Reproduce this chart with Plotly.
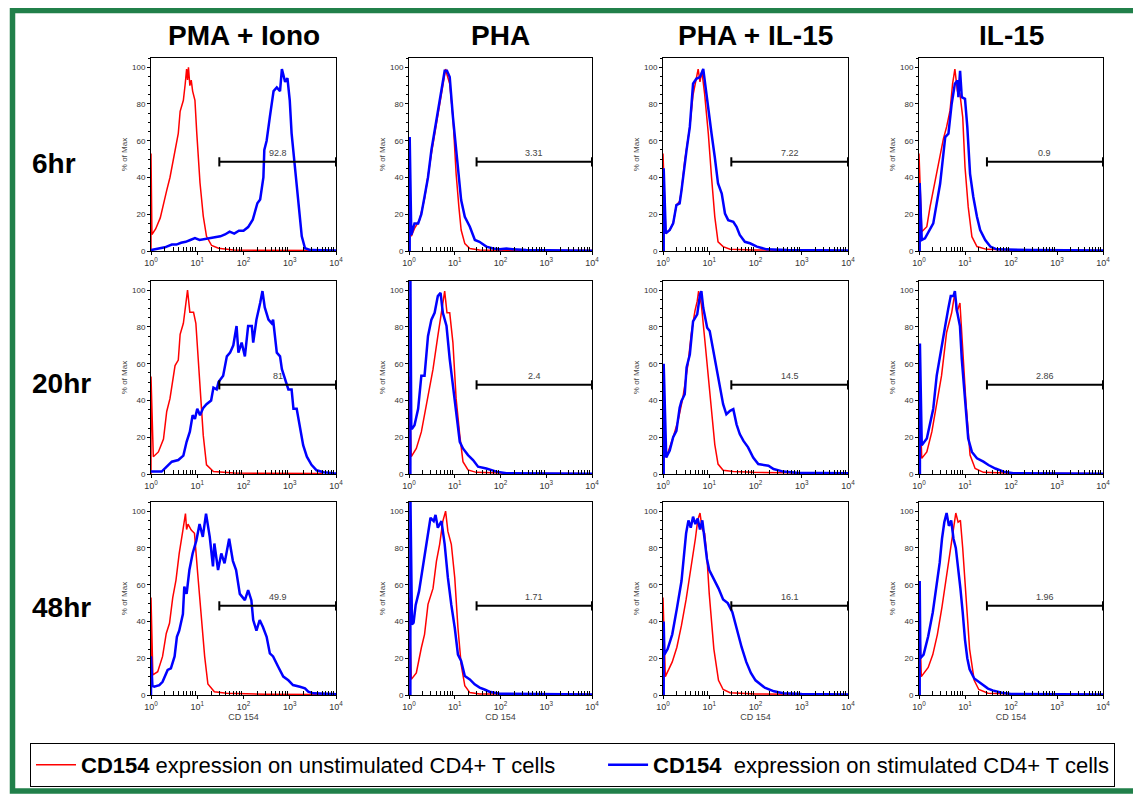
import numpy as np
import plotly.graph_objects as go
from plotly.subplots import make_subplots

# ---------------- data ----------------
conditions = ["PMA + Iono", "PHA", "PHA + IL-15", "IL-15"]
timepoints = ["6hr", "20hr", "48hr"]
gate_labels = [["92.8", "3.31", "7.22", "0.9"],
               ["81", "2.4", "14.5", "2.86"],
               ["49.9", "1.71", "16.1", "1.96"]]
gate_range = [30, 10000]      # CD154 gate bounds
gate_level = 48.5             # % of Max at which the gate bar is drawn

x_tick_vals = [1, 10, 100, 1000, 10000]
x_tick_text = ["10<sup>0</sup>", "10<sup>1</sup>", "10<sup>2</sup>", "10<sup>3</sup>", "10<sup>4</sup>"]
y_tick_vals = [0, 20, 40, 60, 80, 100]

# histograms: (log10 CD154 intensity, % of Max)
pma_6h_red = [(0,0),(0,53),(0.02,9),(0.1,12),(0.2,18),(0.27,26),(0.34,33),(0.41,40),(0.52,55),(0.59,64),(0.63,76),(0.7,82),(0.74,91),(0.77,99),(0.79,93),(0.81,100),(0.84,90),(0.87,93),(0.9,87),(0.95,82),(0.99,64),(1.06,37),(1.13,19),(1.2,8),(1.31,3),(1.46,1.5),(1.78,0.5),(2.5,0.3),(3.2,0.5),(3.72,0.3)]
pma_6h_blue = [(0,0.5),(0.1,1),(0.2,1.5),(0.3,2),(0.45,3.5),(0.55,3.5),(0.65,4.5),(0.75,5),(0.85,6),(0.95,7),(1.05,6),(1.15,6.5),(1.3,7),(1.4,7.5),(1.5,8),(1.6,9),(1.7,10.5),(1.8,9.5),(1.9,11),(2.0,11),(2.1,13),(2.2,17),(2.3,26),(2.36,28),(2.43,40),(2.45,55),(2.5,60),(2.57,73),(2.65,87),(2.72,89),(2.79,87),(2.83,99),(2.9,92),(2.95,94),(3.0,82),(3.04,64),(3.1,49),(3.15,33),(3.21,19),(3.26,8),(3.33,1.5),(3.45,0.5),(4.0,0.3)]

pha_6h_red = [(0,0),(0,50),(0.05,8),(0.12,12.3),(0.23,16.8),(0.34,28.5),(0.49,53),(0.63,73),(0.74,89),(0.8,99),(0.83,96),(0.89,91),(0.96,73),(1.03,42),(1.09,24),(1.14,11.4),(1.22,4),(1.33,1.4),(1.54,0.5),(2.5,0.3),(3.0,0.5),(3.6,0.4),(4,0.3)]
pha_6h_blue = [(0,0),(0.015,0),(0.015,62),(0.05,8.7),(0.12,15),(0.2,15),(0.27,20),(0.34,29.5),(0.415,40),(0.49,55),(0.56,65.6),(0.63,74.7),(0.71,89),(0.78,98),(0.83,98),(0.89,94.6),(0.96,73),(1.02,56.6),(1.07,45.7),(1.14,27.7),(1.22,18.6),(1.33,13.2),(1.44,6),(1.54,5),(1.69,2.4),(1.84,1.4),(1.98,1),(2.13,1.3),(2.27,1),(2.56,0.5),(4,0.2)]

pha15_6h_red = [(0,0),(0,53),(0.06,9.6),(0.145,11.4),(0.22,15),(0.29,25),(0.36,27),(0.4,33),(0.47,49),(0.51,55),(0.58,67.5),(0.65,85),(0.72,93),(0.76,99),(0.8,92),(0.84,98),(0.9,85.5),(0.98,63.8),(1.05,40),(1.12,18.6),(1.19,5),(1.3,2.4),(1.45,1),(1.95,0.5),(3.0,0.4),(3.7,0.3)]
pha15_6h_blue = [(0,0),(0.015,0),(0.015,45),(0.06,9.6),(0.145,11.4),(0.22,15),(0.29,25),(0.36,25.9),(0.4,33),(0.47,49.4),(0.51,55),(0.58,67.5),(0.65,91),(0.72,93.7),(0.8,94.6),(0.87,99),(0.9,92.8),(0.98,76.5),(1.05,63.8),(1.12,51),(1.19,36.7),(1.27,31.3),(1.34,20.4),(1.41,16.8),(1.52,15.9),(1.59,13.2),(1.66,8.7),(1.77,5),(1.88,4.2),(2.03,2.4),(2.24,0.9),(2.68,0.5),(4,0.3)]

il15_6h_red = [(0,0),(0,53),(0.06,10.5),(0.17,13.2),(0.24,24),(0.31,33),(0.42,47.6),(0.53,61),(0.6,67.5),(0.675,76.5),(0.73,91),(0.78,99),(0.835,87),(0.89,85.5),(0.95,73),(1.0,45.7),(1.07,24),(1.15,7.8),(1.26,2.4),(1.47,0.9),(2.05,0.5),(3.0,0.4),(3.7,0.3)]
il15_6h_blue = [(0,0),(0.015,0),(0.015,37),(0.06,6),(0.13,6.9),(0.24,11.4),(0.31,15),(0.385,25.9),(0.46,36.7),(0.57,62),(0.64,63.8),(0.71,80),(0.78,91),(0.835,92.8),(0.857,83.7),(0.893,98),(0.93,83.7),(1.0,82.8),(1.05,67.5),(1.11,42),(1.18,29.5),(1.26,18.6),(1.33,11.4),(1.44,6),(1.55,2.4),(1.69,0.9),(2.42,0.5),(4,0.3)]

pma_20h_red = [(0,0),(0,53),(0.05,9.4),(0.16,12),(0.27,19),(0.34,34),(0.41,41),(0.52,59),(0.59,62),(0.63,76),(0.7,82),(0.76,93),(0.79,100),(0.84,88),(0.92,88),(0.97,82),(1.02,62),(1.06,43),(1.13,21),(1.2,5),(1.35,1.3),(1.8,0.5),(2.8,0.3),(3.72,0.3)]
pma_20h_blue = [(0,1.3),(0.05,1.3),(0.23,1.3),(0.34,4),(0.45,6.7),(0.59,7.6),(0.7,10),(0.77,17.5),(0.84,23),(0.9,32),(0.95,30),(1.0,35.5),(1.06,32),(1.13,36),(1.2,38),(1.3,40),(1.35,47),(1.42,46),(1.46,50),(1.56,53.5),(1.64,64),(1.71,66),(1.78,70),(1.85,80.5),(1.89,66),(1.96,71.5),(2.03,64),(2.1,80.5),(2.18,80.5),(2.21,71.5),(2.28,84),(2.36,93),(2.41,99.5),(2.46,90.6),(2.54,84),(2.61,82),(2.64,84),(2.72,66),(2.79,64),(2.83,57),(2.9,52),(2.97,46),(3.04,46),(3.08,35.5),(3.15,35.5),(3.22,24.7),(3.29,15.7),(3.37,9.4),(3.47,5),(3.58,2),(3.73,1),(3.94,0.4),(4,0.3)]

pha_20h_red = [(0,0),(0,53),(0.05,9.4),(0.16,13.9),(0.27,22.9),(0.34,32),(0.415,42.7),(0.525,57),(0.63,75),(0.71,87.7),(0.78,99.5),(0.83,87.7),(0.89,87.7),(0.96,71.5),(1.03,41),(1.11,21),(1.18,6.7),(1.29,2.2),(1.47,0.9),(2.2,0.4),(3.7,0.3)]
pha_20h_blue = [(0,0),(0.03,0),(0.03,110),(0.05,24.7),(0.07,24.7),(0.12,26.5),(0.2,35.5),(0.27,53.5),(0.34,53.5),(0.415,75),(0.49,84),(0.56,87.7),(0.63,96.8),(0.69,98.5),(0.74,87.7),(0.82,80.5),(0.89,62.5),(0.96,48),(1.03,32),(1.11,17.5),(1.18,13.9),(1.29,10.3),(1.4,7.6),(1.51,4),(1.69,3),(1.91,1.3),(2.13,0.4),(4,0.2)]

pha15_20h_red = [(0,0),(0,53),(0.07,9),(0.22,20),(0.325,29),(0.43,41.6),(0.54,59.7),(0.61,76),(0.69,88.6),(0.74,94),(0.77,99.5),(0.83,92),(0.9,74),(0.98,52),(1.05,34),(1.12,16),(1.19,5.4),(1.3,2),(1.52,1.3),(1.95,0.9),(3.7,0.4)]
pha15_20h_blue = [(0,0),(0.015,0),(0.015,60),(0.07,9),(0.145,12.7),(0.22,20),(0.29,23.5),(0.36,36),(0.4,39.8),(0.47,43.4),(0.51,58),(0.58,65),(0.65,83),(0.74,86.8),(0.8,97.6),(0.83,99.5),(0.87,90.4),(0.9,86.8),(0.955,79.6),(1.01,77.8),(1.085,67),(1.16,56),(1.23,47),(1.3,38),(1.37,32.5),(1.45,34.4),(1.52,35.3),(1.59,27),(1.66,21.7),(1.74,18),(1.84,14.5),(1.95,9),(2.06,5.4),(2.17,4.9),(2.28,4.5),(2.39,2.7),(2.6,1.3),(2.89,0.7),(4,0.4)]

il15_20h_red = [(0,0),(0,53),(0.06,8.5),(0.17,12),(0.28,23),(0.385,39),(0.49,53.5),(0.6,77),(0.71,87.7),(0.78,98.5),(0.82,87.7),(0.89,93),(0.95,68),(1.02,39),(1.11,10.3),(1.22,3),(1.4,0.9),(2.05,0.4),(3.7,0.3)]
il15_20h_blue = [(0,0),(0.02,0),(0.02,71),(0.06,15.7),(0.17,19.3),(0.24,28.3),(0.31,35.5),(0.385,53.5),(0.42,59),(0.49,70),(0.57,80.5),(0.64,90.5),(0.69,96.8),(0.75,96.8),(0.78,99.5),(0.82,89.5),(0.89,80.5),(0.93,62.5),(1.0,41),(1.07,19.3),(1.15,12),(1.26,8.5),(1.4,6.7),(1.51,4.9),(1.66,3),(1.84,1.3),(2.05,0.4),(4,0.2)]

pma_48h_red = [(0,0),(0,53),(0.04,11),(0.145,12.7),(0.25,21),(0.33,33.5),(0.4,39),(0.47,53),(0.54,62.5),(0.61,77),(0.69,89.7),(0.745,98.7),(0.77,90),(0.8,93),(0.87,89.7),(0.94,88),(1.01,66),(1.085,42.6),(1.16,21),(1.23,6),(1.37,1.8),(1.63,0.9),(2.5,0.4),(3.72,0.3)]
pma_48h_blue = [(0,0),(0,21),(0.03,5),(0.07,4.5),(0.18,5.4),(0.25,7.2),(0.36,13.6),(0.43,14.5),(0.51,21),(0.56,31.7),(0.61,35),(0.69,44),(0.72,59),(0.77,55),(0.83,68),(0.9,77),(0.98,84),(1.05,93),(1.12,86),(1.19,98.7),(1.27,86),(1.34,70),(1.37,82.4),(1.45,68),(1.52,77),(1.59,71.6),(1.69,85),(1.77,73),(1.84,68),(1.92,55),(2.03,51.6),(2.1,57),(2.17,51.6),(2.21,40.8),(2.28,35),(2.35,40.8),(2.42,37),(2.5,31.7),(2.57,22.6),(2.64,21),(2.75,15.4),(2.86,10),(2.97,8),(3.07,5.4),(3.22,4.5),(3.33,3.6),(3.4,1.8),(3.51,0.9),(3.94,0.5),(4,0.4)]

pha_48h_red = [(0,0),(0,53),(0.05,8.5),(0.16,12),(0.27,25.7),(0.34,33),(0.415,49.3),(0.525,58),(0.6,72.8),(0.67,82),(0.74,94.6),(0.8,100),(0.85,89),(0.925,82),(1.0,63.8),(1.07,36.6),(1.14,16.7),(1.22,5),(1.33,1.3),(1.545,0.5),(3.0,0.5),(4,0.3)]
pha_48h_blue = [(0,0),(0.03,0),(0.03,110),(0.05,45),(0.065,38.4),(0.1,39.3),(0.146,49),(0.22,56.5),(0.29,67),(0.34,76.4),(0.415,87),(0.47,96.4),(0.54,94.6),(0.58,98),(0.63,91),(0.71,94.6),(0.78,82),(0.85,63.8),(0.925,49),(1.0,36.6),(1.07,22),(1.14,18.5),(1.22,10.3),(1.33,8.5),(1.435,5.8),(1.545,4),(1.65,3),(1.76,1.8),(1.98,0.7),(4,0.3)]

pha15_48h_red = [(0,0),(0,53),(0.05,10),(0.2,18),(0.3,26),(0.4,38),(0.5,52),(0.6,68),(0.7,85),(0.75,95),(0.8,99),(0.85,90),(0.9,88),(0.95,75),(1.0,55),(1.1,25),(1.2,8),(1.3,3),(1.45,1.2),(2.0,0.5),(3.7,0.3)]
pha15_48h_blue = [(0,0),(0.015,0),(0.015,40),(0.03,22),(0.1,25),(0.2,33),(0.3,47),(0.4,62),(0.45,75),(0.5,88),(0.55,95),(0.6,91),(0.65,97),(0.7,93),(0.75,96),(0.8,90),(0.85,95),(0.9,84),(0.95,74),(1.0,68),(1.1,63),(1.2,58),(1.3,52),(1.4,50),(1.5,45),(1.6,35),(1.7,26),(1.8,18),(1.9,12),(2.0,8),(2.1,6),(2.2,4),(2.4,2),(2.6,1),(3.0,0.5),(4.0,0.3)]

il15_48h_red = [(0,0),(0,53),(0.05,10),(0.2,15),(0.3,22),(0.4,33),(0.5,48),(0.6,65),(0.7,82),(0.75,92),(0.8,99),(0.85,94),(0.9,95),(0.95,80),(1.0,60),(1.05,42),(1.1,25),(1.2,8),(1.3,3),(1.5,1),(2.0,0.5),(3.7,0.3)]
il15_48h_blue = [(0,0),(0.015,0),(0.015,62),(0.03,20),(0.1,22),(0.2,32),(0.3,45),(0.4,62),(0.45,72),(0.5,85),(0.55,94),(0.6,99),(0.65,92),(0.7,95),(0.75,85),(0.8,80),(0.85,70),(0.9,58),(0.95,45),(1.0,30),(1.05,20),(1.1,14),(1.2,9),(1.3,7),(1.4,5),(1.5,3.5),(1.6,2.5),(1.8,1.2),(2.0,0.6),(4.0,0.3)]

unstimulated = [[pma_6h_red, pha_6h_red, pha15_6h_red, il15_6h_red],
                [pma_20h_red, pha_20h_red, pha15_20h_red, il15_20h_red],
                [pma_48h_red, pha_48h_red, pha15_48h_red, il15_48h_red]]
stimulated = [[pma_6h_blue, pha_6h_blue, pha15_6h_blue, il15_6h_blue],
              [pma_20h_blue, pha_20h_blue, pha15_20h_blue, il15_20h_blue],
              [pma_48h_blue, pha_48h_blue, pha15_48h_blue, il15_48h_blue]]

NBSP = "\u00a0"
legend_red = "<b>CD154</b> expression on unstimulated CD4+ T cells" + NBSP * 7
legend_blue = "<b>CD154</b>" + NBSP * 2 + "expression on stimulated CD4+ T cells"

# ---------------- layout constants ----------------
OFF = 8                      # page margin around the plot div
W, H = 1141 - OFF, 795 - OFF
FONT = "Liberation Sans, Arial, sans-serif"
col_px = [(151, 336), (409, 592), (663, 848), (919, 1103)]   # page pixels
row_px = [(58, 251), (281, 474), (502, 695)]
row_label_y = [163, 383, 607]
RED, BLUE = "#FF0000", "#0000FF"


def px(xp):
    return (xp - OFF) / W


def py(yp):
    return 1 - (yp - OFF) / H


fig = make_subplots(rows=3, cols=4)


def xy(curve):
    arr = np.array(curve, dtype=float)
    return 10 ** arr[:, 0], arr[:, 1]


minor_x = [m * 10 ** d for d in range(4) for m in range(2, 10)]

for r in range(3):
    for c in range(4):
        idx = r * 4 + c + 1
        xr, yr = xy(unstimulated[r][c])
        xb, yb = xy(stimulated[r][c])
        first = (r == 0 and c == 0)
        fig.add_trace(go.Scatter(x=xr, y=yr, mode="lines", line=dict(color=RED, width=1.5),
                                 name=legend_red, legendgroup="u", showlegend=first,
                                 hoverinfo="skip"), row=r + 1, col=c + 1)
        fig.add_trace(go.Scatter(x=xb, y=yb, mode="lines", line=dict(color=BLUE, width=2.5),
                                 name=legend_blue, legendgroup="s", showlegend=first,
                                 hoverinfo="skip"), row=r + 1, col=c + 1)
        # gate bar
        g0, g1 = gate_range
        fig.add_trace(go.Scatter(x=[g0, g0, None, g0, g1, None, g1, g1],
                                 y=[gate_level - 2.5, gate_level + 2.5, None, gate_level, gate_level, None,
                                    gate_level - 2.5, gate_level + 2.5],
                                 mode="lines", line=dict(color="black", width=2),
                                 showlegend=False, hoverinfo="skip", cliponaxis=False),
                      row=r + 1, col=c + 1)
        fig.add_annotation(x=(np.log10(g0) + np.log10(g1)) / 2, y=gate_level + 1.2,
                           xref=f"x{idx}", yref=f"y{idx}", text=gate_labels[r][c],
                           showarrow=False, yanchor="bottom", xanchor="center",
                           font=dict(family=FONT, size=9, color="#444"))

        x0p, x1p = col_px[c]
        t, b = row_px[r]
        xa = dict(type="log", range=[0, 4], domain=[px(x0p), px(x1p)], automargin=False,
                  tickmode="array", tickvals=x_tick_vals, ticktext=x_tick_text,
                  ticks="outside", ticklen=3, tickcolor="black",
                  tickfont=dict(family=FONT, size=9, color="#333"),
                  showline=True, mirror=True, linecolor="black", linewidth=1,
                  showgrid=False, zeroline=False,
                  minor=dict(tickmode="array", tickvals=minor_x, ticks="inside",
                             ticklen=4, tickcolor="black", showgrid=False))
        if r == 2:
            xa["title"] = dict(text="CD 154", font=dict(family=FONT, size=9, color="#444"), standoff=2)
        ya = dict(range=[0, 105], domain=[py(b), py(t)], automargin=False,
                  tickmode="array", tickvals=y_tick_vals,
                  ticks="outside", ticklen=3, tickcolor="black",
                  tickfont=dict(family=FONT, size=8, color="#333"),
                  showline=True, mirror=True, linecolor="black", linewidth=1,
                  showgrid=False, zeroline=False,
                  minor=dict(dtick=5, ticks="outside", ticklen=2, tickcolor="black", showgrid=False),
                  title=dict(text="% of Max", font=dict(family=FONT, size=8, color="#444"), standoff=3))
        fig.layout[f"xaxis{idx}"].update(xa)
        fig.layout[f"yaxis{idx}"].update(ya)

# column titles & row labels
for c, name in enumerate(conditions):
    fig.add_annotation(x=px((col_px[c][0] + col_px[c][1]) / 2), y=py(35), xref="paper", yref="paper",
                       xanchor="center", yanchor="middle",
                       text=f"<b>{name}</b>", showarrow=False,
                       font=dict(family=FONT, size=28, color="black"))
for r, name in enumerate(timepoints):
    fig.add_annotation(x=px(30), y=py(row_label_y[r]), xref="paper", yref="paper",
                       xanchor="left", yanchor="middle",
                       text=f"<b>{name}</b>", showarrow=False,
                       font=dict(family=FONT, size=28, color="black"))

# green frame
GREEN = "#21804A"
fig.add_shape(type="rect", xref="paper", yref="paper", x0=px(12.5), y0=py(10.5), x1=px(1138),
              y1=py(791), line=dict(color=GREEN, width=5.5), layer="above")

fig.update_layout(
    width=W, height=H, autosize=False,
    margin=dict(l=0, r=0, t=0, b=0, pad=0, autoexpand=False),
    paper_bgcolor="white", plot_bgcolor="white",
    font=dict(family=FONT),
    showlegend=True,
    legend=dict(orientation="h", x=px(30), y=py(743), xanchor="left", yanchor="top",
                bordercolor="black", borderwidth=1, bgcolor="white",
                font=dict(family=FONT, size=22, color="black"),
                itemwidth=40, traceorder="normal"),
)

fig.write_html("out.html")
